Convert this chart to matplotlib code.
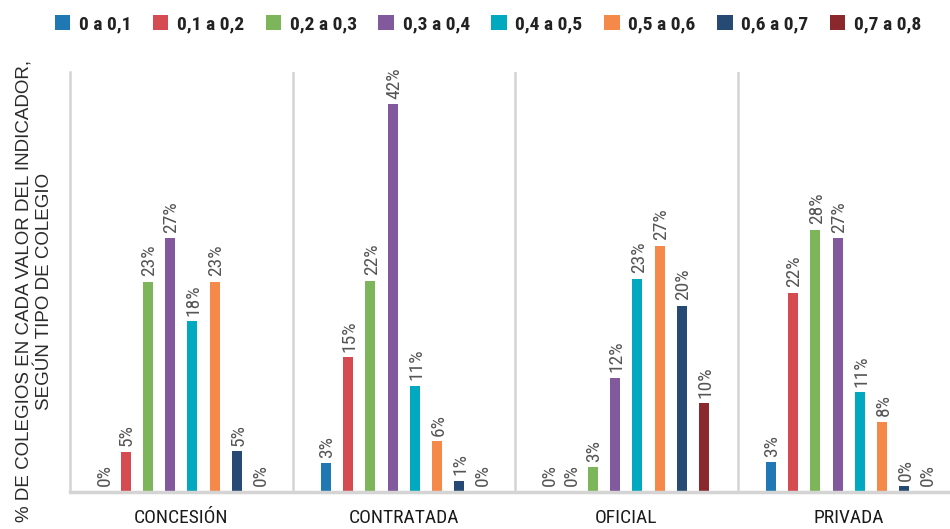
import numpy as np
import matplotlib
matplotlib.use('Agg')
import matplotlib.pyplot as plt
from matplotlib.patches import Patch
from matplotlib import font_manager

# pick a narrow font if one is around
names = set(f.name for f in font_manager.fontManager.ttflist)
narrow = 'DejaVu Sans'
for cand in ['Liberation Sans Narrow', 'DejaVu Sans Condensed', 'Roboto Condensed', 'Liberation Sans']:
    if cand in names:
        narrow = cand
        break
regular = 'Liberation Sans' if 'Liberation Sans' in names else 'DejaVu Sans'

# data
categories = ['CONCESIÓN', 'CONTRATADA', 'OFICIAL', 'PRIVADA']
series = ['0 a 0,1', '0,1 a 0,2', '0,2 a 0,3', '0,3 a 0,4',
          '0,4 a 0,5', '0,5 a 0,6', '0,6 a 0,7', '0,7 a 0,8']
colors = ['#1f78b4', '#d64a51', '#7db65a', '#82599c',
          '#00a9bf', '#f5894a', '#264a73', '#8a282e']

# bar heights (%) per series, one value per category
v_01 = [0.0, 3.1, 0.0, 3.2]
v_02 = [4.35, 14.6, 0.0, 21.6]
v_03 = [22.8, 22.9, 2.7, 28.4]
v_04 = [27.5, 42.0, 12.4, 27.5]
v_05 = [18.5, 11.5, 23.1, 10.8]
v_06 = [22.8, 5.5, 26.7, 7.6]
v_07 = [4.4, 1.2, 20.2, 0.6]
v_08 = [0.0, 0.0, 9.6, 0.0]
values = [v_01, v_02, v_03, v_04, v_05, v_06, v_07, v_08]

# printed labels (rounded in the source)
l_01 = [0, 3, 0, 3]
l_02 = [5, 15, 0, 22]
l_03 = [23, 22, 3, 28]
l_04 = [27, 42, 12, 27]
l_05 = [18, 11, 23, 11]
l_06 = [23, 6, 27, 8]
l_07 = [5, 1, 20, 0]
l_08 = [0, 0, 10, 0]
labels = [l_01, l_02, l_03, l_04, l_05, l_06, l_07, l_08]

W, H = 950, 529
fig = plt.figure(figsize=(W / 100, H / 100), dpi=100)
ax = fig.add_axes([70 / W, 1 - 492 / H, 890 / W, 420 / H])

x = np.arange(len(categories))
step = 0.1
bw = 0.045
for i, (vals, labs) in enumerate(zip(values, labels)):
    xs = x + (i - 3.5) * step
    ax.bar(xs, vals, width=bw, color=colors[i], zorder=3)
    for xi, v, lab in zip(xs, vals, labs):
        ax.annotate(f'{lab}%', (xi, v), xytext=(1, 4), textcoords='offset points',
                    rotation=90, ha='center', va='bottom', fontsize=14,
                    color='#555555', family=narrow)

ax.set_xlim(-0.5, len(categories) - 0.5)
ax.set_ylim(0, 45.5)

for b in np.arange(0.5, len(categories) - 0.5, 1):
    ax.axvline(b, color='#d4d4d4', lw=1.8, zorder=1)

for s in ['top', 'right']:
    ax.spines[s].set_visible(False)
ax.spines['left'].set_color('#d4d4d4')
ax.spines['left'].set_linewidth(1.8)
ax.spines['bottom'].set_color('#d4d4d4')
ax.spines['bottom'].set_linewidth(2.5)
ax.spines['bottom'].set_zorder(4)

ax.set_yticks([])
ax.set_xticks(x)
ax.set_xticklabels(categories, fontsize=14, family=narrow, color='#1a1a1a')
ax.tick_params(axis='x', length=0, pad=12)

fig.text(34 / W, 1 - 291 / H,
         '% DE COLEGIOS EN CADA VALOR DEL INDICADOR,\nSEGÚN TIPO DE COLEGIO',
         rotation=90, ha='center', va='center', multialignment='center',
         fontsize=13.5, family=regular, color='#2a2a2a', linespacing=1.3)

handles = [Patch(facecolor=c, edgecolor='none') for c in colors]
fig.legend(handles, series, loc='upper center', bbox_to_anchor=(488 / W, 1.005),
           ncol=8, frameon=False, handlelength=0.8, handleheight=0.8,
           handletextpad=0.45, columnspacing=1.1,
           prop={'family': narrow, 'weight': 'bold', 'size': 14})
for t in fig.legends[0].get_texts():
    t.set_color('#222222')

fig.savefig('out.png', dpi=100)
